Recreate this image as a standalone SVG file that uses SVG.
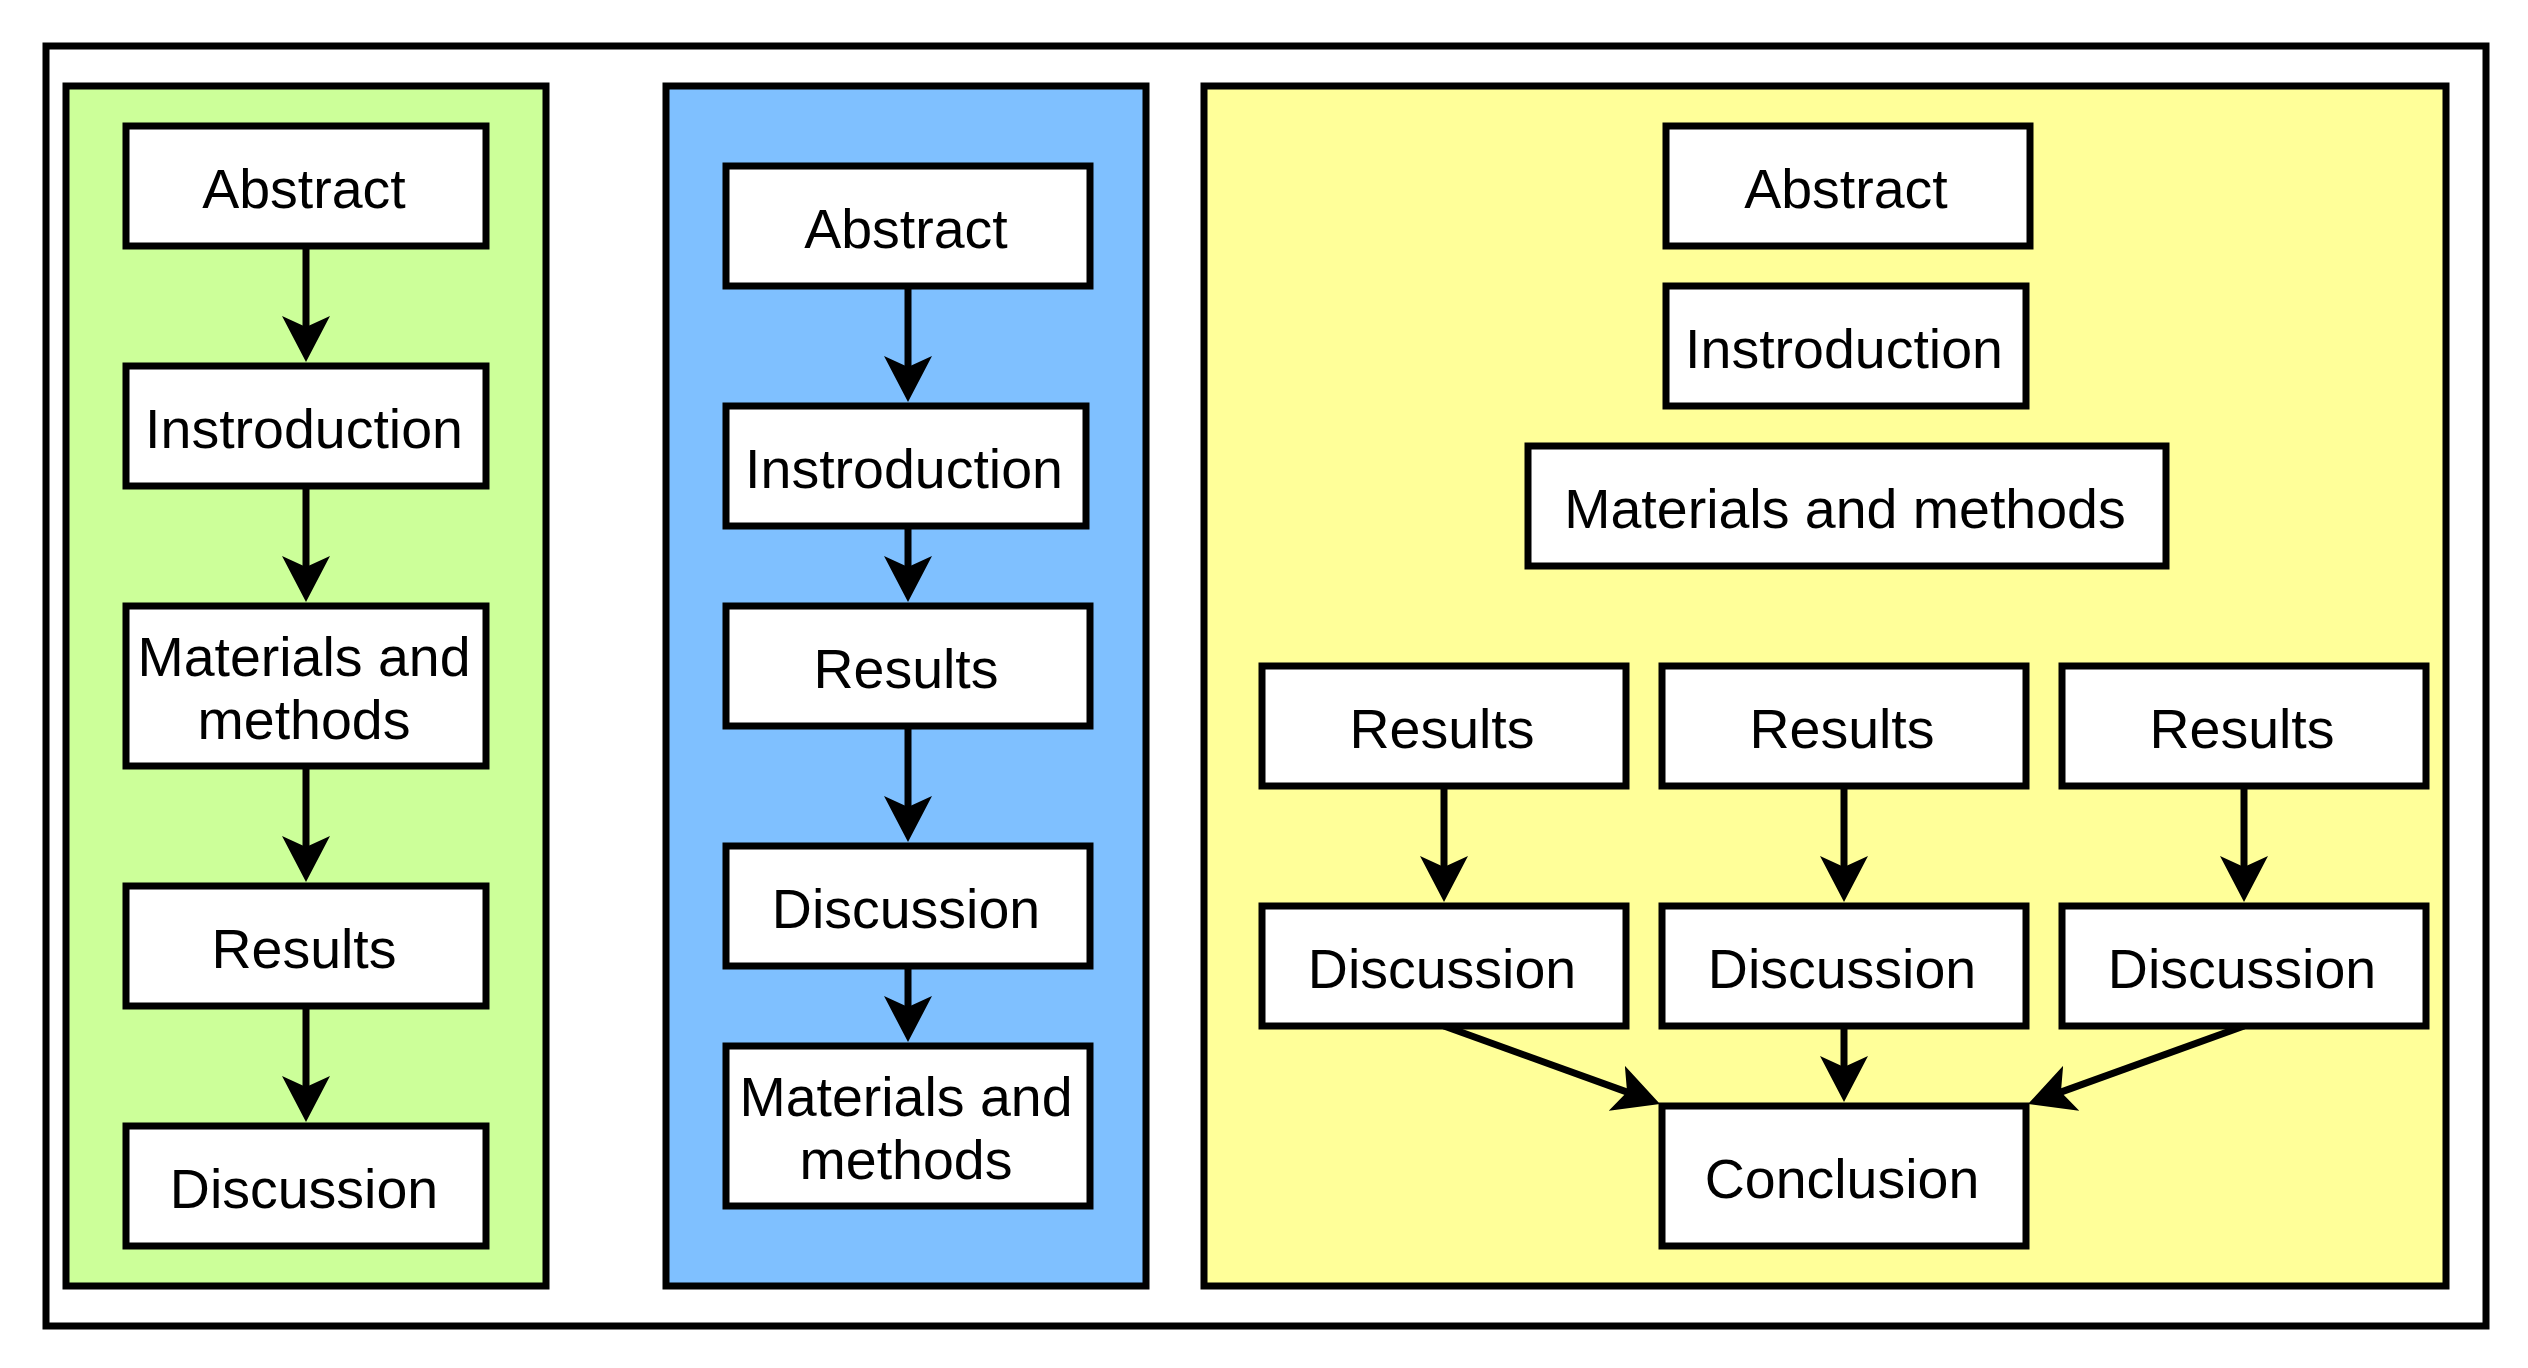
<svg xmlns="http://www.w3.org/2000/svg" width="2528" height="1368" viewBox="0 0 2528 1368">
<defs>
<style>
.frame{fill:#ffffff;stroke:#000;stroke-width:7}
.green{fill:#CCFF99;stroke:#000;stroke-width:7}
.blue{fill:#7FC0FF;stroke:#000;stroke-width:7}
.yellow{fill:#FFFF99;stroke:#000;stroke-width:7}
.box{fill:#ffffff;stroke:#000;stroke-width:7}
.lbl{font-family:"Liberation Sans",Arial,sans-serif;font-size:55.5px;fill:#000;text-anchor:middle}
.edge{stroke:#000;stroke-width:7;fill:none;marker-end:url(#arr)}
</style>
<marker id="arr" viewBox="0 0 46 48" refX="34" refY="24" markerWidth="46" markerHeight="48" markerUnits="userSpaceOnUse" orient="auto">
<path d="M0,0 L46,24 L0,48 L11,24 Z" fill="#000"/>
</marker>
</defs>
<rect width="2528" height="1368" fill="#ffffff"/>
<rect id="outer" class="frame" x="46" y="46" width="2440" height="1280"/>
<g id="panel-green"><rect class="green" x="66" y="86" width="480" height="1200"/></g>
<g id="panel-blue"><rect class="blue" x="666" y="86" width="480" height="1200"/></g>
<g id="panel-yellow"><rect class="yellow" x="1204" y="86" width="1242" height="1200"/></g>
<g id="connectors">
<line class="edge" x1="306" y1="246" x2="306" y2="350"/>
<line class="edge" x1="306" y1="486" x2="306" y2="590"/>
<line class="edge" x1="306" y1="766" x2="306" y2="870"/>
<line class="edge" x1="306" y1="1006" x2="306" y2="1110"/>
<line class="edge" x1="908" y1="286" x2="908" y2="390"/>
<line class="edge" x1="908" y1="526" x2="908" y2="590"/>
<line class="edge" x1="908" y1="726" x2="908" y2="830"/>
<line class="edge" x1="908" y1="966" x2="908" y2="1030"/>
<line class="edge" x1="1444" y1="786" x2="1444" y2="890"/>
<line class="edge" x1="1844" y1="786" x2="1844" y2="890"/>
<line class="edge" x1="2244" y1="786" x2="2244" y2="890"/>
<line class="edge" x1="1444" y1="1026" x2="1648.7" y2="1099.9"/>
<line class="edge" x1="1844" y1="1026" x2="1844" y2="1090"/>
<line class="edge" x1="2244" y1="1026" x2="2039.3" y2="1099.9"/>
</g>
<g id="g-abstract"><rect class="box" x="126" y="126" width="360" height="120"/><text class="lbl" x="304" y="208">Abstract</text></g>
<g id="g-intro"><rect class="box" x="126" y="366" width="360" height="120"/><text class="lbl" x="304" y="448">Instroduction</text></g>
<g id="g-methods"><rect class="box" x="126" y="606" width="360" height="160"/><text class="lbl" x="304" y="675.5">Materials and</text><text class="lbl" x="304" y="738.5">methods</text></g>
<g id="g-results"><rect class="box" x="126" y="886" width="360" height="120"/><text class="lbl" x="304" y="968">Results</text></g>
<g id="g-discussion"><rect class="box" x="126" y="1126" width="360" height="120"/><text class="lbl" x="304" y="1208">Discussion</text></g>
<g id="b-abstract"><rect class="box" x="726" y="166" width="364" height="120"/><text class="lbl" x="906" y="248">Abstract</text></g>
<g id="b-intro"><rect class="box" x="726" y="406" width="360" height="120"/><text class="lbl" x="904" y="488">Instroduction</text></g>
<g id="b-results"><rect class="box" x="726" y="606" width="364" height="120"/><text class="lbl" x="906" y="688">Results</text></g>
<g id="b-discussion"><rect class="box" x="726" y="846" width="364" height="120"/><text class="lbl" x="906" y="928">Discussion</text></g>
<g id="b-methods"><rect class="box" x="726" y="1046" width="364" height="160"/><text class="lbl" x="906" y="1115.5">Materials and</text><text class="lbl" x="906" y="1178.5">methods</text></g>
<g id="y-abstract"><rect class="box" x="1666" y="126" width="364" height="120"/><text class="lbl" x="1846" y="208">Abstract</text></g>
<g id="y-intro"><rect class="box" x="1666" y="286" width="360" height="120"/><text class="lbl" x="1844" y="368">Instroduction</text></g>
<g id="y-methods"><rect class="box" x="1528" y="446" width="638" height="120"/><text class="lbl" x="1845" y="528">Materials and methods</text></g>
<g id="y-results1"><rect class="box" x="1262" y="666" width="364" height="120"/><text class="lbl" x="1442" y="748">Results</text></g>
<g id="y-results2"><rect class="box" x="1662" y="666" width="364" height="120"/><text class="lbl" x="1842" y="748">Results</text></g>
<g id="y-results3"><rect class="box" x="2062" y="666" width="364" height="120"/><text class="lbl" x="2242" y="748">Results</text></g>
<g id="y-discussion1"><rect class="box" x="1262" y="906" width="364" height="120"/><text class="lbl" x="1442" y="988">Discussion</text></g>
<g id="y-discussion2"><rect class="box" x="1662" y="906" width="364" height="120"/><text class="lbl" x="1842" y="988">Discussion</text></g>
<g id="y-discussion3"><rect class="box" x="2062" y="906" width="364" height="120"/><text class="lbl" x="2242" y="988">Discussion</text></g>
<g id="y-conclusion"><rect class="box" x="1662" y="1106" width="364" height="140"/><text class="lbl" x="1842" y="1198">Conclusion</text></g>
</svg>
